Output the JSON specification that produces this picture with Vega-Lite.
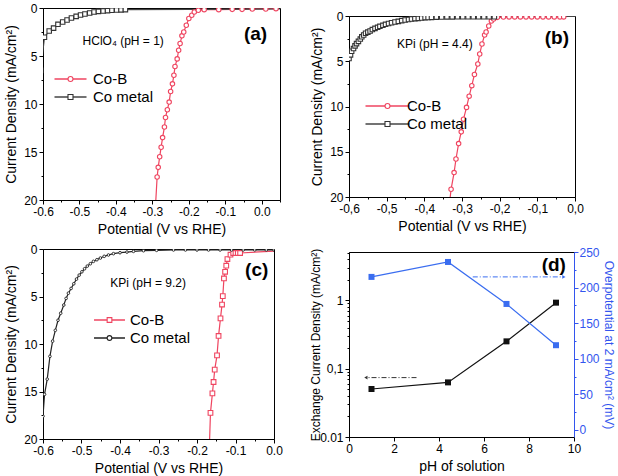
{
  "$schema": "https://vega.github.io/schema/vega-lite/v6.json",
  "padding": {"left": 4, "top": 1, "right": 0, "bottom": 0},
  "background": "white",
  "config": {
    "font": "Liberation Sans",
    "view": {"stroke": "#000", "strokeWidth": 1},
    "axis": {"grid": false, "domainColor": "#000", "tickColor": "#000", "labelColor": "#000", "titleColor": "#000", "labelFontSize": 12, "titleFontSize": 14, "titleFontWeight": "normal", "tickSize": 4, "labelPadding": 2, "titlePadding": 5, "labelFlush": false, "labelOverlap": false, "domainWidth": 1},
    "legend": {"padding": 0}
  },
  "datasets": {
    "one": [{"n": 1}],
    "ta": [{"v": -0.38, "j": 3.4, "t": "HClO₄ (pH = 1)"}],
    "la": [{"v": -0.017, "j": 2.7, "t": "(a)"}],
    "tb": [{"v": -0.372, "j": 3.1, "t": "KPi (pH = 4.4)"}],
    "lb": [{"v": -0.048, "j": 2.4, "t": "(b)"}],
    "tc": [{"v": -0.327, "j": 3.6, "t": "KPi (pH = 9.2)"}],
    "lc": [{"v": -0.045, "j": 2.2, "t": "(c)"}],
    "ld": [{"pH": 9.1, "ecd": 3.25, "t": "(d)"}],
    "arrow_left": [{"pH": 3, "pH2": 0.85, "ecd": 0.074}],
    "head_left": [{"pH": 0.75, "ecd": 0.074}],
    "arrow_right": [{"pH": 5.5, "pH2": 9.45, "eta": 215}],
    "head_right": [{"pH": 9.55, "eta": 215}],
    "a": [
      {"series": "Co-B", "v": -0.292, "j": 21}, {"series": "Co-B", "v": -0.287, "j": 17.6}, {"series": "Co-B", "v": -0.284, "j": 16.6}, {"series": "Co-B", "v": -0.28, "j": 15.5}, {"series": "Co-B", "v": -0.276, "j": 14.5}, {"series": "Co-B", "v": -0.272, "j": 13.5}, {"series": "Co-B", "v": -0.267, "j": 12.4}, {"series": "Co-B", "v": -0.264, "j": 11.4}, {"series": "Co-B", "v": -0.259, "j": 10.6}, {"series": "Co-B", "v": -0.254, "j": 9.8}, {"series": "Co-B", "v": -0.25, "j": 8.7}, {"series": "Co-B", "v": -0.245, "j": 7.9}, {"series": "Co-B", "v": -0.241, "j": 7.0}, {"series": "Co-B", "v": -0.238, "j": 6.1}, {"series": "Co-B", "v": -0.232, "j": 5.3}, {"series": "Co-B", "v": -0.228, "j": 4.4}, {"series": "Co-B", "v": -0.224, "j": 3.7}, {"series": "Co-B", "v": -0.219, "j": 2.9}, {"series": "Co-B", "v": -0.214, "j": 2.5}, {"series": "Co-B", "v": -0.207, "j": 1.8}, {"series": "Co-B", "v": -0.2, "j": 1.1}, {"series": "Co-B", "v": -0.192, "j": 0.76}, {"series": "Co-B", "v": -0.185, "j": 0.42}, {"series": "Co-B", "v": -0.174, "j": 0.24}, {"series": "Co-B", "v": -0.158, "j": 0.17}, {"series": "Co-B", "v": -0.118, "j": 0.17}, {"series": "Co-B", "v": -0.081, "j": 0.14}, {"series": "Co-B", "v": -0.054, "j": 0.14}, {"series": "Co-B", "v": -0.026, "j": 0.1}, {"series": "Co-B", "v": 0.011, "j": 0.1}, {"series": "Co-B", "v": 0.039, "j": 0.07},
      {"series": "Co metal", "v": -0.606, "j": 6.5}, {"series": "Co metal", "v": -0.596, "j": 3.05}, {"series": "Co metal", "v": -0.583, "j": 2.4}, {"series": "Co metal", "v": -0.571, "j": 2.1}, {"series": "Co metal", "v": -0.559, "j": 1.7}, {"series": "Co metal", "v": -0.546, "j": 1.46}, {"series": "Co metal", "v": -0.534, "j": 1.25}, {"series": "Co metal", "v": -0.522, "j": 1.04}, {"series": "Co metal", "v": -0.509, "j": 0.87}, {"series": "Co metal", "v": -0.497, "j": 0.73}, {"series": "Co metal", "v": -0.485, "j": 0.62}, {"series": "Co metal", "v": -0.472, "j": 0.52}, {"series": "Co metal", "v": -0.46, "j": 0.42}, {"series": "Co metal", "v": -0.448, "j": 0.35}, {"series": "Co metal", "v": -0.435, "j": 0.31}, {"series": "Co metal", "v": -0.423, "j": 0.28}, {"series": "Co metal", "v": -0.411, "j": 0.24}, {"series": "Co metal", "v": -0.398, "j": 0.21}, {"series": "Co metal", "v": -0.386, "j": 0.2}, {"series": "Co metal", "v": -0.374, "j": 0.17}, {"series": "Co metal", "v": 0.06, "j": 0.1}
    ],
    "b": [
      {"series": "Co-B", "v": -0.334, "j": 21}, {"series": "Co-B", "v": -0.329, "j": 19.15}, {"series": "Co-B", "v": -0.321, "j": 17.3}, {"series": "Co-B", "v": -0.316, "j": 15.8}, {"series": "Co-B", "v": -0.309, "j": 14.1}, {"series": "Co-B", "v": -0.302, "j": 12.8}, {"series": "Co-B", "v": -0.296, "j": 11.4}, {"series": "Co-B", "v": -0.288, "j": 10.1}, {"series": "Co-B", "v": -0.281, "j": 8.86}, {"series": "Co-B", "v": -0.274, "j": 7.7}, {"series": "Co-B", "v": -0.267, "j": 6.46}, {"series": "Co-B", "v": -0.258, "j": 5.3}, {"series": "Co-B", "v": -0.253, "j": 4.2}, {"series": "Co-B", "v": -0.247, "j": 3.1}, {"series": "Co-B", "v": -0.24, "j": 2.1}, {"series": "Co-B", "v": -0.236, "j": 1.77}, {"series": "Co-B", "v": -0.229, "j": 1.1}, {"series": "Co-B", "v": -0.222, "j": 0.55}, {"series": "Co-B", "v": -0.216, "j": 0.33}, {"series": "Co-B", "v": -0.206, "j": 0.15}, {"series": "Co-B", "v": -0.19, "j": 0.12}, {"series": "Co-B", "v": -0.175, "j": 0.1}, {"series": "Co-B", "v": -0.16, "j": 0.1}, {"series": "Co-B", "v": -0.145, "j": 0.1}, {"series": "Co-B", "v": -0.13, "j": 0.1}, {"series": "Co-B", "v": -0.115, "j": 0.1}, {"series": "Co-B", "v": -0.1, "j": 0.1}, {"series": "Co-B", "v": -0.085, "j": 0.1}, {"series": "Co-B", "v": -0.07, "j": 0.1}, {"series": "Co-B", "v": -0.055, "j": 0.1}, {"series": "Co-B", "v": -0.04, "j": 0.1}, {"series": "Co-B", "v": -0.03, "j": 0.1},
      {"series": "Co metal", "v": -0.61, "j": 6.5}, {"series": "Co metal", "v": -0.6, "j": 4.7}, {"series": "Co metal", "v": -0.596, "j": 4.3}, {"series": "Co metal", "v": -0.593, "j": 3.9}, {"series": "Co metal", "v": -0.588, "j": 3.6}, {"series": "Co metal", "v": -0.584, "j": 3.3}, {"series": "Co metal", "v": -0.58, "j": 3.05}, {"series": "Co metal", "v": -0.575, "j": 2.8}, {"series": "Co metal", "v": -0.57, "j": 2.55}, {"series": "Co metal", "v": -0.566, "j": 2.3}, {"series": "Co metal", "v": -0.561, "j": 2.1}, {"series": "Co metal", "v": -0.556, "j": 1.9}, {"series": "Co metal", "v": -0.55, "j": 1.78}, {"series": "Co metal", "v": -0.544, "j": 1.66}, {"series": "Co metal", "v": -0.538, "j": 1.5}, {"series": "Co metal", "v": -0.531, "j": 1.37}, {"series": "Co metal", "v": -0.524, "j": 1.25}, {"series": "Co metal", "v": -0.518, "j": 1.14}, {"series": "Co metal", "v": -0.51, "j": 1.03}, {"series": "Co metal", "v": -0.503, "j": 0.92}, {"series": "Co metal", "v": -0.495, "j": 0.83}, {"series": "Co metal", "v": -0.487, "j": 0.74}, {"series": "Co metal", "v": -0.478, "j": 0.66}, {"series": "Co metal", "v": -0.469, "j": 0.59}, {"series": "Co metal", "v": -0.46, "j": 0.51}, {"series": "Co metal", "v": -0.451, "j": 0.44}, {"series": "Co metal", "v": -0.442, "j": 0.38}, {"series": "Co metal", "v": -0.434, "j": 0.33}, {"series": "Co metal", "v": -0.425, "j": 0.29}, {"series": "Co metal", "v": -0.416, "j": 0.26}, {"series": "Co metal", "v": -0.407, "j": 0.22}, {"series": "Co metal", "v": -0.398, "j": 0.18}, {"series": "Co metal", "v": -0.39, "j": 0.16}, {"series": "Co metal", "v": -0.381, "j": 0.15}, {"series": "Co metal", "v": -0.368, "j": 0.13}, {"series": "Co metal", "v": -0.354, "j": 0.11}, {"series": "Co metal", "v": -0.34, "j": 0.1}, {"series": "Co metal", "v": -0.326, "j": 0.1}, {"series": "Co metal", "v": -0.312, "j": 0.09}, {"series": "Co metal", "v": -0.298, "j": 0.09}, {"series": "Co metal", "v": -0.284, "j": 0.08}, {"series": "Co metal", "v": -0.27, "j": 0.08}, {"series": "Co metal", "v": -0.256, "j": 0.08}, {"series": "Co metal", "v": -0.242, "j": 0.08}, {"series": "Co metal", "v": -0.228, "j": 0.08}, {"series": "Co metal", "v": -0.214, "j": 0.08}, {"series": "Co metal", "v": 0.01, "j": 0.05}
    ],
    "c": [
      {"series": "Co-B", "v": -0.168, "j": 21}, {"series": "Co-B", "v": -0.165, "j": 17.25}, {"series": "Co-B", "v": -0.16, "j": 15.2}, {"series": "Co-B", "v": -0.157, "j": 14.0}, {"series": "Co-B", "v": -0.154, "j": 12.7}, {"series": "Co-B", "v": -0.148, "j": 11.2}, {"series": "Co-B", "v": -0.144, "j": 9.15}, {"series": "Co-B", "v": -0.139, "j": 7.3}, {"series": "Co-B", "v": -0.135, "j": 5.85}, {"series": "Co-B", "v": -0.133, "j": 4.96}, {"series": "Co-B", "v": -0.13, "j": 3.1}, {"series": "Co-B", "v": -0.127, "j": 2.4}, {"series": "Co-B", "v": -0.124, "j": 1.76}, {"series": "Co-B", "v": -0.121, "j": 1.06}, {"series": "Co-B", "v": -0.113, "j": 0.6}, {"series": "Co-B", "v": -0.106, "j": 0.42}, {"series": "Co-B", "v": -0.1, "j": 0.42}, {"series": "Co-B", "v": -0.094, "j": 0.42}, {"series": "Co-B", "v": -0.088, "j": 0.42}, {"series": "Co-B", "v": 0.01, "j": 0.2},
      {"series": "Co metal", "v": -0.606, "j": 21}, {"series": "Co metal", "v": -0.6, "j": 17.6}, {"series": "Co metal", "v": -0.596, "j": 15.3}, {"series": "Co metal", "v": -0.589, "j": 13.7}, {"series": "Co metal", "v": -0.582, "j": 11.3}, {"series": "Co metal", "v": -0.575, "j": 9.7}, {"series": "Co metal", "v": -0.568, "j": 8.56}, {"series": "Co metal", "v": -0.561, "j": 7.5}, {"series": "Co metal", "v": -0.554, "j": 6.76}, {"series": "Co metal", "v": -0.546, "j": 5.9}, {"series": "Co metal", "v": -0.54, "j": 5.2}, {"series": "Co metal", "v": -0.534, "j": 4.65}, {"series": "Co metal", "v": -0.527, "j": 4.15}, {"series": "Co metal", "v": -0.52, "j": 3.66}, {"series": "Co metal", "v": -0.513, "j": 3.17}, {"series": "Co metal", "v": -0.506, "j": 2.75}, {"series": "Co metal", "v": -0.499, "j": 2.4}, {"series": "Co metal", "v": -0.492, "j": 2.08}, {"series": "Co metal", "v": -0.485, "j": 1.8}, {"series": "Co metal", "v": -0.477, "j": 1.55}, {"series": "Co metal", "v": -0.469, "j": 1.3}, {"series": "Co metal", "v": -0.46, "j": 1.13}, {"series": "Co metal", "v": -0.451, "j": 0.95}, {"series": "Co metal", "v": -0.441, "j": 0.77}, {"series": "Co metal", "v": -0.43, "j": 0.63}, {"series": "Co metal", "v": -0.417, "j": 0.49}, {"series": "Co metal", "v": -0.4, "j": 0.39}, {"series": "Co metal", "v": -0.382, "j": 0.32}, {"series": "Co metal", "v": -0.365, "j": 0.25}, {"series": "Co metal", "v": -0.339, "j": 0.18}, {"series": "Co metal", "v": -0.305, "j": 0.14}, {"series": "Co metal", "v": -0.261, "j": 0.1}, {"series": "Co metal", "v": -0.23, "j": 0.1}, {"series": "Co metal", "v": -0.2, "j": 0.1}, {"series": "Co metal", "v": -0.17, "j": 0.1}, {"series": "Co metal", "v": -0.14, "j": 0.1}, {"series": "Co metal", "v": -0.11, "j": 0.1}, {"series": "Co metal", "v": -0.08, "j": 0.1}, {"series": "Co metal", "v": -0.05, "j": 0.1}, {"series": "Co metal", "v": -0.02, "j": 0.1}, {"series": "Co metal", "v": 0.0, "j": 0.1}
    ],
    "d": [
      {"pH": 1, "ecd": 0.0504, "eta": 215},
      {"pH": 4.4, "ecd": 0.063, "eta": 236},
      {"pH": 7, "ecd": 0.251, "eta": 177},
      {"pH": 9.2, "ecd": 0.925, "eta": 119}
    ]
  },
  "resolve": {"scale": {"color": "independent", "shape": "independent", "stroke": "independent", "size": "independent"}, "legend": {"color": "independent", "shape": "independent", "stroke": "independent", "size": "independent"}},
  "spacing": 26,
  "hconcat": [
    {
      "spacing": 5,
      "resolve": {"scale": {"color": "independent", "shape": "independent", "stroke": "independent", "size": "independent"}, "legend": {"color": "independent", "shape": "independent", "stroke": "independent", "size": "independent"}},
      "vconcat": [
        {
          "width": 237, "height": 192,
          "encoding": {
            "x": {"field": "v", "type": "quantitative", "scale": {"domain": [-0.6, 0.05], "nice": false, "zero": false}, "axis": {"values": [-0.6, -0.55, -0.5, -0.45, -0.4, -0.35, -0.3, -0.25, -0.2, -0.15, -0.1, -0.05, 0, 0.05], "labelExpr": "abs(round(datum.value*100)) % 10 != 0 ? '' : (datum.value < -0.001 ? '-' + format(-datum.value, '.1f') : format(abs(datum.value), '.1f'))", "tickSize": {"condition": {"test": "abs(round(datum.value*100)) % 10 != 0", "value": 2}, "value": 4}, "title": "Potential (V vs RHE)"}},
            "y": {"field": "j", "type": "quantitative", "scale": {"domain": [0, 20], "reverse": true, "nice": false, "zero": false}, "axis": {"values": [0, 2.5, 5, 7.5, 10, 12.5, 15, 17.5, 20], "labelExpr": "datum.value % 5 != 0 ? '' : format(datum.value, 'd')", "tickSize": {"condition": {"test": "datum.value % 5 != 0", "value": 2}, "value": 4}, "title": "Current Density (mA/cm²)"}}
          },
          "layer": [
            {"data": {"name": "a"}, "mark": {"type": "line", "clip": true, "strokeWidth": 1.2}, "encoding": {"color": {"field": "series", "type": "nominal", "sort": ["Co-B", "Co metal"], "scale": {"range": ["#ef4560", "#444444"]}, "legend": {"orient": "none", "legendX": 20, "legendY": 63.5, "symbolType": "M-6.4,0L6.4,0", "symbolSize": 25, "symbolStrokeWidth": 1.5, "labelFontSize": 15, "labelOffset": 15, "title": null, "rowPadding": 2}}}},
            {"data": {"name": "a"}, "mark": {"type": "point", "clip": true, "filled": false, "fill": "white", "strokeWidth": 1.1, "size": 20, "opacity": 1},
             "encoding": {
               "shape": {"field": "series", "type": "nominal", "scale": {"domain": ["Co-B", "Co metal"], "range": ["circle", "square"]}, "legend": {"orient": "none", "legendX": 20, "legendY": 63.5, "symbolSize": 25, "symbolFillColor": "white", "symbolStrokeWidth": 1.1, "labelFontSize": 15, "labelOpacity": 0, "labelOffset": 15, "title": null, "rowPadding": 2}},
               "stroke": {"field": "series", "type": "nominal", "scale": {"domain": ["Co-B", "Co metal"], "range": ["#ef4560", "#333333"]}, "legend": {"orient": "none", "legendX": 20, "legendY": 63.5, "symbolSize": 25, "symbolFillColor": "white", "symbolStrokeWidth": 1.1, "labelFontSize": 15, "labelOpacity": 0, "labelOffset": 15, "title": null, "rowPadding": 2}}
             }},
            {"data": {"name": "ta"}, "mark": {"type": "text", "fontSize": 12, "align": "center", "baseline": "middle", "color": "#000"}, "encoding": {"text": {"field": "t", "type": "nominal"}}},
            {"data": {"name": "la"}, "mark": {"type": "text", "fontSize": 19, "fontWeight": "bold", "align": "center", "baseline": "middle", "color": "#000"}, "encoding": {"text": {"field": "t", "type": "nominal"}}}
          ]
        },
        {
          "width": 231, "height": 190,
          "encoding": {
            "x": {"field": "v", "type": "quantitative", "scale": {"domain": [-0.6, 0.0], "nice": false, "zero": false}, "axis": {"values": [-0.6, -0.55, -0.5, -0.45, -0.4, -0.35, -0.3, -0.25, -0.2, -0.15, -0.1, -0.05, 0], "labelExpr": "abs(round(datum.value*100)) % 10 != 0 ? '' : (datum.value < -0.001 ? '-' + format(-datum.value, '.1f') : format(abs(datum.value), '.1f'))", "tickSize": {"condition": {"test": "abs(round(datum.value*100)) % 10 != 0", "value": 2}, "value": 4}, "title": "Potential (V vs RHE)"}},
            "y": {"field": "j", "type": "quantitative", "scale": {"domain": [0, 20], "reverse": true, "nice": false, "zero": false}, "axis": {"values": [0, 2.5, 5, 7.5, 10, 12.5, 15, 17.5, 20], "labelExpr": "datum.value % 5 != 0 ? '' : format(datum.value, 'd')", "tickSize": {"condition": {"test": "datum.value % 5 != 0", "value": 2}, "value": 4}, "title": "Current Density (mA/cm²)"}}
          },
          "layer": [
            {"data": {"name": "c"}, "mark": {"type": "line", "clip": true, "strokeWidth": 1.2}, "encoding": {"color": {"field": "series", "type": "nominal", "sort": ["Co-B", "Co metal"], "scale": {"range": ["#ef4560", "#222222"]}, "legend": {"orient": "none", "legendX": 59, "legendY": 63.5, "symbolType": "M-6.6,0L6.6,0", "symbolSize": 22, "symbolStrokeWidth": 1.5, "labelFontSize": 15, "labelOffset": 13, "title": null, "rowPadding": 2}}}},
            {"data": {"name": "c"}, "transform": [{"filter": "datum.series === 'Co-B'"}], "mark": {"type": "point", "clip": true, "filled": false, "fill": "white", "strokeWidth": 1.1, "size": 22, "opacity": 1},
             "encoding": {
               "shape": {"field": "series", "type": "nominal", "scale": {"domain": ["Co-B", "Co metal"], "range": ["square", "circle"]}, "legend": {"orient": "none", "legendX": 59, "legendY": 63.5, "symbolSize": 22, "symbolFillColor": "white", "symbolStrokeWidth": 1.1, "labelFontSize": 15, "labelOpacity": 0, "labelOffset": 13, "title": null, "rowPadding": 2}},
               "stroke": {"field": "series", "type": "nominal", "scale": {"domain": ["Co-B", "Co metal"], "range": ["#ef4560", "#222222"]}, "legend": {"orient": "none", "legendX": 59, "legendY": 63.5, "symbolSize": 22, "symbolFillColor": "white", "symbolStrokeWidth": 1.1, "labelFontSize": 15, "labelOpacity": 0, "labelOffset": 13, "title": null, "rowPadding": 2}}
             }},
            {"data": {"name": "c"}, "transform": [{"filter": "datum.series === 'Co metal'"}], "mark": {"type": "point", "clip": true, "filled": false, "fill": "white", "strokeWidth": 0.9, "size": 7, "opacity": 1},
             "encoding": {
               "shape": {"field": "series", "type": "nominal", "scale": {"domain": ["Co-B", "Co metal"], "range": ["square", "circle"]}, "legend": {"orient": "none", "legendX": 59, "legendY": 63.5, "symbolSize": 22, "symbolFillColor": "white", "symbolStrokeWidth": 1.1, "labelFontSize": 15, "labelOpacity": 0, "labelOffset": 13, "title": null, "rowPadding": 2}},
               "stroke": {"field": "series", "type": "nominal", "scale": {"domain": ["Co-B", "Co metal"], "range": ["#ef4560", "#222222"]}, "legend": {"orient": "none", "legendX": 59, "legendY": 63.5, "symbolSize": 22, "symbolFillColor": "white", "symbolStrokeWidth": 1.1, "labelFontSize": 15, "labelOpacity": 0, "labelOffset": 13, "title": null, "rowPadding": 2}}
             }},
            {"data": {"name": "tc"}, "mark": {"type": "text", "fontSize": 12, "align": "center", "baseline": "middle", "color": "#000"}, "encoding": {"text": {"field": "t", "type": "nominal"}}},
            {"data": {"name": "lc"}, "mark": {"type": "text", "fontSize": 19, "fontWeight": "bold", "align": "center", "baseline": "middle", "color": "#000"}, "encoding": {"text": {"field": "t", "type": "nominal"}}}
          ]
        }
      ]
    },
    {
      "spacing": 11,
      "resolve": {"scale": {"color": "independent", "shape": "independent", "stroke": "independent", "size": "independent"}, "legend": {"color": "independent", "shape": "independent", "stroke": "independent", "size": "independent"}},
      "vconcat": [
        {
          "spacing": 0,
          "resolve": {"scale": {"color": "independent", "shape": "independent", "stroke": "independent", "size": "independent"}, "legend": {"color": "independent", "shape": "independent", "stroke": "independent", "size": "independent"}},
          "vconcat": [
            {"width": 10, "height": 1, "data": {"name": "one"}, "mark": {"type": "point", "opacity": 0, "size": 1}, "encoding": {}, "view": {"stroke": null}},
            {
              "width": 226, "height": 181,
              "encoding": {
                "x": {"field": "v", "type": "quantitative", "scale": {"domain": [-0.6, 0.0], "nice": false, "zero": false}, "axis": {"values": [-0.6, -0.55, -0.5, -0.45, -0.4, -0.35, -0.3, -0.25, -0.2, -0.15, -0.1, -0.05, 0], "labelExpr": "abs(round(datum.value*100)) % 10 != 0 ? '' : replace(datum.value < -0.001 ? '-' + format(-datum.value, '.1f') : format(abs(datum.value), '.1f'), '.', ',')", "tickSize": {"condition": {"test": "abs(round(datum.value*100)) % 10 != 0", "value": 2}, "value": 4}, "title": "Potential (V vs RHE)"}},
                "y": {"field": "j", "type": "quantitative", "scale": {"domain": [0, 20], "reverse": true, "nice": false, "zero": false}, "axis": {"values": [0, 2.5, 5, 7.5, 10, 12.5, 15, 17.5, 20], "labelExpr": "datum.value % 5 != 0 ? '' : format(datum.value, 'd')", "tickSize": {"condition": {"test": "datum.value % 5 != 0", "value": 2}, "value": 4}, "title": "Current Density (mA/cm²)"}}
              },
              "layer": [
                {"data": {"name": "b"}, "mark": {"type": "line", "clip": true, "strokeWidth": 1.2}, "encoding": {"color": {"field": "series", "type": "nominal", "sort": ["Co-B", "Co metal"], "scale": {"range": ["#ef4560", "#444444"]}, "legend": {"orient": "none", "legendX": 31, "legendY": 82.5, "symbolType": "M-8.8,0L8.8,0", "symbolSize": 25, "symbolStrokeWidth": 1.5, "labelFontSize": 15, "labelOffset": 12, "title": null, "rowPadding": 2}}}},
                {"data": {"name": "b"}, "mark": {"type": "point", "clip": true, "filled": false, "fill": "white", "strokeWidth": 1.1, "size": 20, "opacity": 1},
                 "encoding": {
                   "shape": {"field": "series", "type": "nominal", "scale": {"domain": ["Co-B", "Co metal"], "range": ["circle", "square"]}, "legend": {"orient": "none", "legendX": 31, "legendY": 82.5, "symbolSize": 25, "symbolFillColor": "white", "symbolStrokeWidth": 1.1, "labelFontSize": 15, "labelOpacity": 0, "labelOffset": 12, "title": null, "rowPadding": 2}},
                   "stroke": {"field": "series", "type": "nominal", "scale": {"domain": ["Co-B", "Co metal"], "range": ["#ef4560", "#333333"]}, "legend": {"orient": "none", "legendX": 31, "legendY": 82.5, "symbolSize": 25, "symbolFillColor": "white", "symbolStrokeWidth": 1.1, "labelFontSize": 15, "labelOpacity": 0, "labelOffset": 12, "title": null, "rowPadding": 2}}
                 }},
                {"data": {"name": "tb"}, "mark": {"type": "text", "fontSize": 12, "align": "center", "baseline": "middle", "color": "#000"}, "encoding": {"text": {"field": "t", "type": "nominal"}}},
                {"data": {"name": "lb"}, "mark": {"type": "text", "fontSize": 19, "fontWeight": "bold", "align": "center", "baseline": "middle", "color": "#000"}, "encoding": {"text": {"field": "t", "type": "nominal"}}}
              ]
            }
          ]
        },
        {
          "width": 225, "height": 185,
          "layer": [
            {
              "encoding": {
                "x": {"field": "pH", "type": "quantitative", "scale": {"domain": [0, 10], "nice": false}, "axis": {"values": [0, 0.5, 1, 1.5, 2, 2.5, 3, 3.5, 4, 4.5, 5, 5.5, 6, 6.5, 7, 7.5, 8, 8.5, 9, 9.5, 10], "labelExpr": "datum.value % 1 != 0 ? '' : format(datum.value, 'd')", "tickSize": {"condition": {"test": "datum.value % 1 != 0", "value": 2}, "value": 4}, "title": "pH of solution", "titleFontSize": 14}},
                "y": {"field": "ecd", "type": "quantitative", "scale": {"type": "log", "domain": [0.01, 5.1], "nice": false}, "axis": {"orient": "left", "values": [0.01, 0.02, 0.03, 0.04, 0.05, 0.06, 0.07, 0.08, 0.09, 0.1, 0.2, 0.3, 0.4, 0.5, 0.6, 0.7, 0.8, 0.9, 1, 2, 3, 4, 5], "labelExpr": "abs(datum.value - 0.01) < 0.001 ? '0.01' : (abs(datum.value - 0.1) < 0.001 ? '0,1' : (abs(datum.value - 1) < 0.001 ? '1' : ''))", "tickSize": {"condition": {"test": "abs(datum.value - 0.01) > 0.001 && abs(datum.value - 0.1) > 0.001 && abs(datum.value - 1) > 0.001", "value": 2}, "value": 4}, "title": "Exchange Current Density (mA/cm²)", "titleFontSize": 12, "titlePadding": -3}}
              },
              "layer": [
                {"data": {"name": "d"}, "mark": {"type": "line", "color": "#111111", "strokeWidth": 1.2}},
                {"data": {"name": "d"}, "mark": {"type": "square", "color": "#111111", "size": 36, "opacity": 1}},
                {"data": {"name": "arrow_left"}, "mark": {"type": "rule", "color": "#333333", "strokeWidth": 1, "strokeDash": [5, 2, 1, 2]}, "encoding": {"x2": {"field": "pH2"}}},
                {"data": {"name": "head_left"}, "mark": {"type": "point", "shape": "triangle-left", "filled": true, "color": "#333333", "size": 14, "opacity": 1}},
                {"data": {"name": "ld"}, "mark": {"type": "text", "fontSize": 19, "fontWeight": "bold", "align": "center", "baseline": "middle", "color": "#000"}, "encoding": {"text": {"field": "t", "type": "nominal"}}}
              ]
            },
            {
              "encoding": {
                "x": {"field": "pH", "type": "quantitative", "scale": {"domain": [0, 10], "nice": false}},
                "y": {"field": "eta", "type": "quantitative", "scale": {"domain": [-10, 250], "nice": false, "zero": false}, "axis": {"orient": "right", "values": [0, 25, 50, 75, 100, 125, 150, 175, 200, 225, 250], "labelExpr": "datum.value % 50 != 0 ? '' : format(datum.value, 'd')", "tickSize": {"condition": {"test": "datum.value % 50 != 0", "value": 2}, "value": 4}, "title": "Overpotential at 2 mA/cm² (mV)", "titleFontSize": 12, "titlePadding": 2, "labelPadding": 1, "labelColor": "#3355ee", "titleColor": "#3355ee", "domainColor": "#3355ee", "tickColor": "#3355ee"}}
              },
              "layer": [
                {"data": {"name": "d"}, "mark": {"type": "line", "color": "#3a6df0", "strokeWidth": 1.2}},
                {"data": {"name": "d"}, "mark": {"type": "square", "color": "#3a6df0", "size": 36, "opacity": 1}},
                {"data": {"name": "arrow_right"}, "mark": {"type": "rule", "color": "#3a6df0", "strokeWidth": 1, "strokeDash": [5, 2, 1, 2]}, "encoding": {"x2": {"field": "pH2"}}},
                {"data": {"name": "head_right"}, "mark": {"type": "point", "shape": "triangle-right", "filled": true, "color": "#3a6df0", "size": 14, "opacity": 1}}
              ]
            }
          ],
          "resolve": {"scale": {"y": "independent"}}
        }
      ]
    }
  ]
}
